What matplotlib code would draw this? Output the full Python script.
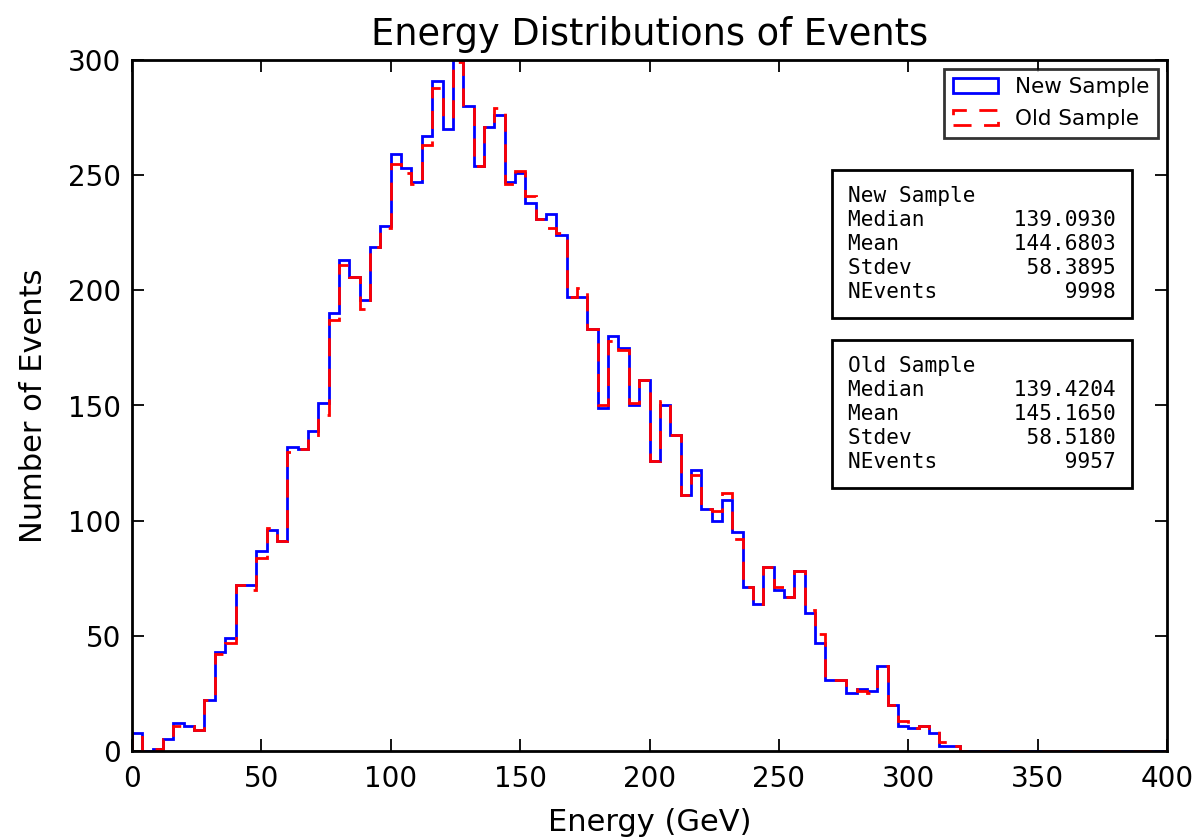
import numpy as np
import matplotlib
matplotlib.use("Agg")
import matplotlib.pyplot as plt

# bin layout: 100 bins of 4 GeV between 0 and 400
bin_edges = np.linspace(0, 400, 101)

# counts per bin (bins above 320 GeV are empty)
new_counts = [
    8, 0, 1, 5, 12, 11, 9, 22, 43, 49,
    72, 72, 87, 96, 91, 132, 131, 139, 151, 190,
    213, 206, 196, 219, 228, 259, 253, 247, 267, 291,
    270, 302, 280, 254, 271, 276, 247, 251, 238, 231,
    233, 224, 197, 197, 183, 149, 180, 175, 150, 161,
    126, 150, 137, 111, 122, 105, 100, 109, 95, 71,
    64, 80, 70, 67, 78, 60, 47, 31, 31, 25,
    27, 26, 37, 20, 11, 10, 11, 8, 2, 2,
] + [0] * 20
old_counts = [
    8, 0, 1, 5, 11, 11, 9, 22, 42, 47,
    72, 70, 84, 97, 91, 130, 131, 136, 146, 187,
    211, 206, 192, 219, 227, 255, 251, 246, 263, 288,
    275, 299, 280, 254, 271, 279, 246, 252, 241, 231,
    227, 225, 197, 201, 183, 150, 178, 174, 151, 161,
    126, 152, 137, 111, 120, 105, 104, 112, 92, 71,
    64, 80, 71, 67, 78, 61, 51, 31, 31, 27,
    26, 25, 37, 20, 13, 10, 11, 10, 4, 2,
] + [0] * 20

stat_names = ["Median", "Mean", "Stdev", "NEvents"]
new_stats = ["139.0930", "144.6803", "58.3895", "9998"]
old_stats = ["139.4204", "145.1650", "58.5180", "9957"]

plt.rcParams["font.family"] = ["DejaVu Sans"]

fig = plt.figure(figsize=(12.01, 8.38), dpi=100)
fig.subplots_adjust(left=132 / 1201, right=1167 / 1201,
                    bottom=1 - 751 / 838, top=1 - 60 / 838)
ax = fig.add_subplot(111)

centers = 0.5 * (bin_edges[:-1] + bin_edges[1:])
ax.hist(centers, bins=bin_edges, weights=new_counts, histtype="step",
        color="blue", linewidth=2, label="New Sample")
ax.hist(centers, bins=bin_edges, weights=old_counts, histtype="step",
        color="red", linewidth=2, linestyle=(0, (6.5, 4.5)), label="Old Sample")

ax.set_xlim(0, 400)
ax.set_ylim(0, 300)
ax.set_xticks(np.arange(0, 401, 50))
ax.set_yticks(np.arange(0, 301, 50))
ax.tick_params(axis="both", which="major", direction="in", top=True, right=True,
               length=8.5, width=1.3, labelsize=20)
ax.tick_params(axis="x", pad=10)
ax.tick_params(axis="y", pad=8)
for sp in ax.spines.values():
    sp.set_linewidth(2)

ax.set_title("Energy Distributions of Events", fontsize=26.5, pad=11)
ax.set_xlabel("Energy (GeV)", fontsize=22, labelpad=11)
ax.set_ylabel("Number of Events", fontsize=22, labelpad=14)

leg = ax.legend(loc="upper right", fontsize=15.5, fancybox=False,
                borderaxespad=0.4, handlelength=2.1, handletextpad=0.8,
                labelspacing=0.55)
leg.get_frame().set_edgecolor("black")
leg.get_frame().set_linewidth(2)

def stats_text(title, values):
    lines = [title] + [f"{n:<13}{v:>8}" for n, v in zip(stat_names, values)]
    return "\n".join(lines)

box_style = dict(boxstyle="square,pad=0.75", facecolor="white",
                 edgecolor="black", linewidth=2)
ax.text(0.692, 0.818, stats_text("New Sample", new_stats), transform=ax.transAxes,
        ha="left", va="top", family="DejaVu Sans Mono", fontsize=15.2,
        linespacing=1.26, bbox=box_style)
ax.text(0.692, 0.572, stats_text("Old Sample", old_stats), transform=ax.transAxes,
        ha="left", va="top", family="DejaVu Sans Mono", fontsize=15.2,
        linespacing=1.26, bbox=box_style)

fig.savefig("out.png", dpi=100)
